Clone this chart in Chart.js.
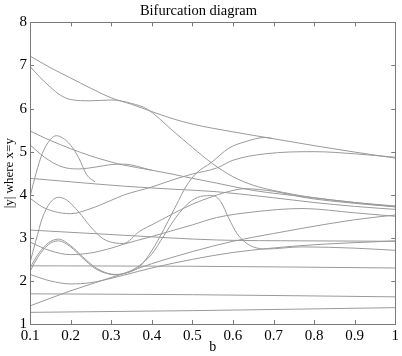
<!DOCTYPE html>
<html>
<head>
<meta charset="utf-8">
<script src="https://cdn.jsdelivr.net/npm/chart.js@4"></script>
<style>
  body { margin: 0; background: #fff; }
  #wrap { width: 402px; height: 356px; }
</style>
</head>
<body>
<div id="wrap"><canvas id="bifChart"></canvas></div>
<script>
// branches as [b, |y|] pairs
var branchA = [[0.1,7.22],[0.15,6.95],[0.2,6.71],[0.25,6.47],[0.3,6.25],[0.35,6.1],[0.4,5.93],[0.45,5.77],[0.5,5.64],[0.6,5.46],[0.7,5.3],[0.8,5.14],[0.9,4.99],[1,4.85]];
var branchB = [[0.1,6.98],[0.125,6.72],[0.15,6.5],[0.175,6.31],[0.2,6.21],[0.25,6.18],[0.3,6.2],[0.35,6.12],[0.39,5.98],[0.45,5.5],[0.5,5.1],[0.55,4.72],[0.6,4.42],[0.65,4.22],[0.7,4.1],[0.8,3.93],[0.9,3.82],[1,3.74]];
var branchC = [[0.1,5.48],[0.15,5.26],[0.2,5.07],[0.25,4.9],[0.3,4.76],[0.33,4.69],[0.4,4.57],[0.45,4.48],[0.5,4.38],[0.56,4.27],[0.65,4.1],[0.78,3.95],[0.9,3.82],[1,3.72]];
var branchD = [[0.1,3.95],[0.115,4.5],[0.13,4.95],[0.15,5.28],[0.165,5.37],[0.18,5.32],[0.2,5.15],[0.22,4.86],[0.24,4.46],[0.26,4.3]];
var branchE = [[0.1,4.38],[0.2,4.3],[0.33,4.2],[0.45,4.13],[0.56,4.07],[0.7,3.93],[0.8,3.82],[0.9,3.73],[1,3.66]];
var branchF = [[0.1,3.92],[0.13,3.72],[0.16,3.61],[0.2,3.56],[0.25,3.68],[0.3,3.87],[0.33,3.99],[0.4,4.18],[0.45,4.34],[0.5,4.48],[0.56,4.62],[0.6,4.8],[0.68,4.95],[0.8,5.0],[0.9,4.95],[1,4.87]];
var branchG = [[0.1,2.3],[0.12,2.62],[0.145,2.88],[0.17,2.97],[0.2,2.82],[0.23,2.56],[0.26,2.32],[0.29,2.18],[0.31,2.15],[0.34,2.19],[0.37,2.33],[0.4,2.7],[0.43,3.2],[0.46,3.75],[0.485,4.2],[0.51,4.5],[0.547,4.75],[0.59,5.08],[0.63,5.23],[0.68,5.33],[0.7,5.3]];
var branchG2 = [[0.1,2.22],[0.12,2.56],[0.145,2.84],[0.17,2.93],[0.2,2.79],[0.23,2.53],[0.26,2.29],[0.29,2.17],[0.31,2.14],[0.34,2.2],[0.37,2.36],[0.4,2.62],[0.43,3.05],[0.46,3.48],[0.49,3.8],[0.52,3.96],[0.55,3.98],[0.57,3.84],[0.59,3.45],[0.61,3.1],[0.63,2.9],[0.65,2.79],[0.68,2.74],[0.77,2.79],[0.9,2.76],[1,2.71]];
var branchH = [[0.1,2.42],[0.115,2.95],[0.13,3.45],[0.15,3.82],[0.17,3.94],[0.19,3.88],[0.22,3.6],[0.25,3.25],[0.28,2.98],[0.31,2.88],[0.33,2.87],[0.37,3.15],[0.41,3.35],[0.45,3.55],[0.5,3.78],[0.55,3.96],[0.6,4.1],[0.63,4.14],[0.7,4.08],[0.78,3.93],[0.9,3.8],[1,3.72]];
var branchI = [[0.1,3.18],[0.33,3.06],[0.56,2.95],[0.77,2.93],[1,2.92]];
var branchJ = [[0.1,2.9],[0.15,2.7],[0.2,2.61],[0.25,2.65],[0.3,2.76],[0.33,2.85],[0.4,3.03],[0.5,3.3],[0.56,3.47],[0.65,3.6],[0.77,3.68],[0.9,3.58],[1,3.5]];
var branchK = [[0.1,2.35],[0.5,2.34],[1,2.3]];
var branchL = [[0.1,2.15],[0.15,2.0],[0.2,1.93],[0.25,1.96],[0.3,2.06],[0.33,2.13],[0.4,2.3],[0.5,2.5],[0.6,2.66],[0.77,2.82],[1,2.93]];
var branchM = [[0.1,1.42],[0.2,1.77],[0.33,2.17],[0.4,2.4],[0.5,2.68],[0.6,2.92],[0.7,3.1],[0.77,3.22],[0.9,3.42],[1,3.53]];
var branchN = [[0.1,1.7],[0.5,1.68],[1,1.63]];
var branchO = [[0.1,1.27],[0.5,1.31],[1,1.38]];
var branchP = [[0.1,5.16],[0.125,4.95],[0.145,4.81],[0.17,4.68],[0.19,4.62],[0.22,4.6],[0.26,4.64],[0.3,4.7],[0.33,4.71],[0.4,4.57]];

var branches = [branchA, branchB, branchC, branchD, branchE, branchF, branchG, branchG2, branchH,
                branchI, branchJ, branchK, branchL, branchM, branchN, branchO, branchP];

var xTicks = [0.1, 0.2, 0.3, 0.4, 0.5, 0.6, 0.7, 0.8, 0.9, 1];
var yTicks = [1, 2, 3, 4, 5, 6, 7, 8];

var serif = "'Liberation Serif', 'Times New Roman', serif";

// matlab style box with ticks pointing inward
var boxPlugin = {
    id: 'box',
    afterDatasetsDraw: function (chart) {
        var c = chart.ctx, a = chart.chartArea;
        var xs = chart.scales.x, ys = chart.scales.y;
        c.save();
        c.strokeStyle = '#7a7a7a';
        c.lineWidth = 1;
        c.strokeRect(Math.round(a.left) + 0.5, Math.round(a.top) + 0.5,
                     Math.round(a.right - a.left), Math.round(a.bottom - a.top));
        c.beginPath();
        xTicks.forEach(function (v) {
            var px = Math.round(xs.getPixelForValue(v)) + 0.5;
            c.moveTo(px, a.top); c.lineTo(px, a.top + 4);
            c.moveTo(px, a.bottom); c.lineTo(px, a.bottom - 4);
        });
        yTicks.forEach(function (v) {
            var py = Math.round(ys.getPixelForValue(v)) + 0.5;
            c.moveTo(a.left, py); c.lineTo(a.left + 4, py);
            c.moveTo(a.right, py); c.lineTo(a.right - 4, py);
        });
        c.stroke();
        c.restore();
    }
};

var ctx = document.getElementById('bifChart').getContext('2d');
var myChart = new Chart(ctx, {
    type: 'line',
    data: {
        datasets: branches.map(function (b) {
            return {
                data: b.map(function (p) { return { x: p[0], y: p[1] }; }),
                borderColor: '#9a9a9a',
                borderWidth: 1,
                pointRadius: 0,
                cubicInterpolationMode: 'monotone',
                fill: false
            };
        })
    },
    options: {
        responsive: true,
        maintainAspectRatio: false,
        animation: false,
        layout: { padding: { left: 0, right: 5, top: 0, bottom: 0 } },
        scales: {
            x: {
                type: 'linear',
                min: 0.1,
                max: 1,
                afterFit: function (s) { s.height = 32; },
                afterBuildTicks: function (s) { s.ticks = xTicks.map(function (v) { return { value: v }; }); },
                grid: { display: false, drawTicks: false },
                border: { display: false },
                ticks: {
                    padding: 3,
                    color: '#000',
                    font: { family: serif, size: 15 },
                    callback: function (v) { return String(Math.round(v * 10) / 10); }
                },
                title: {
                    display: true,
                    text: 'b',
                    color: '#000',
                    font: { family: serif, size: 14 },
                    padding: { top: 0, bottom: 0 }
                }
            },
            y: {
                min: 1,
                max: 8,
                afterFit: function (s) { s.width = 30; },
                afterBuildTicks: function (s) { s.ticks = yTicks.map(function (v) { return { value: v }; }); },
                grid: { display: false, drawTicks: false },
                border: { display: false },
                ticks: {
                    padding: 3,
                    color: '#000',
                    font: { family: serif, size: 15 }
                },
                title: {
                    display: true,
                    text: '|y| where x=y',
                    color: '#000',
                    font: { family: serif, size: 13 },
                    padding: { top: 2, bottom: 2 }
                }
            }
        },
        plugins: {
            title: {
                display: true,
                text: 'Bifurcation diagram',
                color: '#000',
                font: { family: serif, size: 14.5, weight: 'normal' },
                padding: { top: 2, bottom: 3 }
            },
            legend: { display: false },
            tooltip: { enabled: false }
        }
    },
    plugins: [boxPlugin]
});
</script>
</body>
</html>
